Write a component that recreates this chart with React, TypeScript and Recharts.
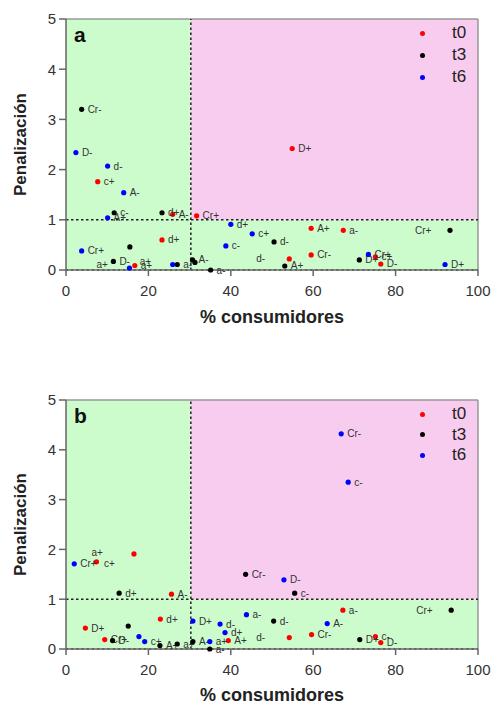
import {
  ScatterChart, Scatter, XAxis, YAxis, ReferenceArea, ReferenceLine, Legend,
} from 'recharts';

/* ── Palette ─────────────────────────────────────────────────────────────── */

const GREEN = '#ccfccc';
const PINK  = '#f8ccee';
const RED   = '#ff0000';
const BLACK = '#000000';
const BLUE  = '#0000ff';
const TEXT  = '#333333';
const FONT  = "'Liberation Sans', Arial, sans-serif";

/* ── Data ────────────────────────────────────────────────────────────────── */

const X_TICKS = [0, 20, 40, 60, 80, 100];
const Y_TICKS = [0, 1, 2, 3, 4, 5];
const SERIES_NAMES = ['t0', 't3', 't6'];
const CUT_X = 30.3;   // % consumidores threshold
const CUT_Y = 1;      // penalización threshold

// panel a
const aT0 = [
  { x: 54.9, y: 2.42, label: 'D+' },
  { x: 7.7,  y: 1.76, label: 'c+' },
  { x: 25.9, y: 1.11, label: 'A-' },
  { x: 31.7, y: 1.08, label: 'Cr+' },
  { x: 23.3, y: 0.6,  label: 'd+' },
  { x: 59.5, y: 0.83, label: 'A+' },
  { x: 67.3, y: 0.79, label: 'a-' },
  { x: 54.2, y: 0.22, label: 'd-' },
  { x: 59.5, y: 0.3,  label: 'Cr-' },
  { x: 75.1, y: 0.26, label: 'c+' },
  { x: 76.4, y: 0.12, label: 'D-' },
  { x: 16.7, y: 0.09, label: 'a+' },
];
const aT3 = [
  { x: 3.8,  y: 3.2,  label: 'Cr-' },
  { x: 11.7, y: 1.14, label: 'c-' },
  { x: 23.3, y: 1.14, label: 'd+' },
  { x: 93.2, y: 0.79, label: 'Cr+' },
  { x: 50.5, y: 0.56, label: 'd-' },
  { x: 15.5, y: 0.46, label: '' },
  { x: 53.1, y: 0.08, label: 'A+' },
  { x: 71.2, y: 0.2,  label: 'D+' },
  { x: 11.5, y: 0.17, label: 'D-' },
  { x: 27.0, y: 0.11, label: 'a-' },
  { x: 30.7, y: 0.2,  label: 'A-' },
  { x: 31.3, y: 0.15, label: '' },
  { x: 35.1, y: 0,    label: 'a-' },
];
const aT6 = [
  { x: 2.4,  y: 2.34, label: 'D-' },
  { x: 10.1, y: 2.07, label: 'd-' },
  { x: 14.0, y: 1.54, label: 'A-' },
  { x: 10.1, y: 1.04, label: 'A+' },
  { x: 40.0, y: 0.91, label: 'd+' },
  { x: 45.2, y: 0.72, label: 'c+' },
  { x: 3.8,  y: 0.38, label: 'Cr+' },
  { x: 38.8, y: 0.48, label: 'c-' },
  { x: 73.4, y: 0.31, label: 'Cr+' },
  { x: 92.0, y: 0.11, label: 'D+' },
  { x: 15.4, y: 0.04, label: 'a+' },
  { x: 25.9, y: 0.11, label: 'a+' },
];

// panel b
const bT0 = [
  { x: 7.4,  y: 1.75, label: 'a+' },
  { x: 16.5, y: 1.91, label: 'c+' },
  { x: 25.6, y: 1.1,  label: 'A-' },
  { x: 67.2, y: 0.78, label: 'a-' },
  { x: 22.9, y: 0.6,  label: 'd+' },
  { x: 4.7,  y: 0.42, label: 'D+' },
  { x: 9.4,  y: 0.19, label: 'Cr+' },
  { x: 39.4, y: 0.17, label: 'A+' },
  { x: 54.2, y: 0.23, label: 'd-' },
  { x: 59.6, y: 0.29, label: 'Cr-' },
  { x: 75.1, y: 0.25, label: 'c-' },
  { x: 76.4, y: 0.13, label: 'D-' },
];
const bT3 = [
  { x: 12.9, y: 1.12, label: 'd+' },
  { x: 43.6, y: 1.5,  label: 'Cr-' },
  { x: 55.5, y: 1.12, label: 'c-' },
  { x: 93.5, y: 0.78, label: 'Cr+' },
  { x: 50.4, y: 0.56, label: 'd-' },
  { x: 15.1, y: 0.46, label: '' },
  { x: 11.3, y: 0.17, label: 'D-' },
  { x: 22.8, y: 0.07, label: 'A+' },
  { x: 27.0, y: 0.1,  label: 'a+' },
  { x: 30.8, y: 0.15, label: 'A-' },
  { x: 34.9, y: 0,    label: 'a-' },
  { x: 71.3, y: 0.19, label: 'D+' },
];
const bT6 = [
  { x: 66.8, y: 4.32, label: 'Cr-' },
  { x: 68.5, y: 3.35, label: 'c-' },
  { x: 2.0,  y: 1.71, label: 'Cr+' },
  { x: 52.9, y: 1.39, label: 'D-' },
  { x: 43.8, y: 0.69, label: 'a-' },
  { x: 30.8, y: 0.56, label: 'D+' },
  { x: 37.4, y: 0.5,  label: 'd-' },
  { x: 63.4, y: 0.51, label: 'A-' },
  { x: 38.6, y: 0.33, label: 'd+' },
  { x: 17.7, y: 0.25, label: '' },
  { x: 19.1, y: 0.15, label: 'c+' },
  { x: 34.9, y: 0.15, label: 'a+' },
];

// a few labels sit left of / above their point in the original
const LABEL_NUDGE: Record<string, [number, number]> = {
  'a:t3:Cr+': [-35, 0],
  'a:t0:d-':  [-33, 0],
  'a:t6:a+':  [-33, -3],
  'b:t3:Cr+': [-35, 0],
  'b:t0:d-':  [-33, 0],
  'b:t0:a+':  [-5, -9],
  'b:t0:c+':  [-30, 10],
};

/* ── Point with its product label ────────────────────────────────────────── */

function makeShape(panel: string, series: string) {
  return (props: any) => {
    const { cx, cy, fill, payload } = props;
    if (cx == null || cy == null) return <g />;
    const [dx, dy] = LABEL_NUDGE[`${panel}:${series}:${payload.label}`] ?? [6, 0];
    return (
      <g>
        <circle cx={cx} cy={cy} r={2.6} fill={fill} />
        {payload.label && (
          <text x={cx + dx} y={cy + dy + 3.5} fontSize={10} fill={TEXT} fontFamily={FONT}>
            {payload.label}
          </text>
        )}
      </g>
    );
  };
}

/* ── Legend ──────────────────────────────────────────────────────────────── */

function SeriesLegend({ gap }: { gap: number }) {
  const colors = [RED, BLACK, BLUE];
  return (
    <div style={{ fontFamily: FONT }}>
      {SERIES_NAMES.map((name, i) => (
        <div key={name} style={{ display: 'flex', alignItems: 'center', height: gap }}>
          <span style={{ width: 5, height: 5, borderRadius: 3, background: colors[i], marginLeft: 2 }} />
          <span style={{ fontSize: 17, color: '#222', marginLeft: 27 }}>{name}</span>
        </div>
      ))}
    </div>
  );
}

/* ── Panel ───────────────────────────────────────────────────────────────── */

interface PanelProps {
  id: string;
  t0: { x: number; y: number; label: string }[];
  t3: { x: number; y: number; label: string }[];
  t6: { x: number; y: number; label: string }[];
  height: number;
  top: number;
  bottom: number;
  axisHeight: number;
  titleOffset: number;
  legendTop: number;
  legendGap: number;
}

function Panel(p: PanelProps) {
  return (
    <ScatterChart
      width={493}
      height={p.height}
      margin={{ top: p.top, right: 15, bottom: p.bottom, left: 0 }}
      style={{ fontFamily: FONT }}
    >
      <ReferenceArea
        x1={0} x2={CUT_X} y1={0} y2={5} fill={GREEN} fillOpacity={1} stroke="none"
        label={{ value: p.id, position: 'insideTopLeft', offset: 8, style: { fontSize: 21, fontWeight: 'bold', fill: '#111' } }}
      />
      <ReferenceArea x1={CUT_X} x2={100} y1={0} y2={CUT_Y} fill={GREEN} fillOpacity={1} stroke="none" />
      <ReferenceArea x1={CUT_X} x2={100} y1={CUT_Y} y2={5} fill={PINK} fillOpacity={1} stroke="none" />
      <ReferenceLine y={5} stroke="#999" strokeWidth={1.5} />
      <ReferenceLine x={100} stroke="#999" strokeWidth={1.5} />
      <ReferenceLine y={CUT_Y} stroke="#222" strokeWidth={1.5} strokeDasharray="2.5 2.5" />
      <ReferenceLine x={CUT_X} stroke="#222" strokeWidth={1.5} strokeDasharray="2.5 2.5" />
      <ReferenceLine y={0} stroke="#222" strokeWidth={1.5} strokeDasharray="2 3.2" />
      <XAxis
        type="number"
        dataKey="x"
        domain={[0, 100]}
        ticks={X_TICKS}
        height={p.axisHeight}
        tick={{ fill: TEXT, fontSize: 15 }}
        tickSize={6}
        tickMargin={9}
        stroke="#666"
        strokeWidth={1.5}
        label={{ value: '% consumidores', position: 'insideBottom', offset: p.titleOffset, style: { fontSize: 18, fontWeight: 'bold', fill: '#222' } }}
      />
      <YAxis
        type="number"
        dataKey="y"
        domain={[0, 5]}
        ticks={Y_TICKS}
        width={66}
        tick={{ fill: TEXT, fontSize: 15 }}
        tickSize={7}
        tickMargin={3}
        stroke="#666"
        strokeWidth={1.5}
        label={{
          content: ({ viewBox }: any) => {
            const cx = viewBox.x + 20;
            const cy = viewBox.y + viewBox.height / 2;
            return (
              <text x={cx} y={cy} transform={`rotate(-90 ${cx} ${cy})`} textAnchor="middle"
                dominantBaseline="central" fontSize={17} fontWeight="bold" fill="#222" fontFamily={FONT}>
                Penalización
              </text>
            );
          },
        }}
      />
      <Legend
        layout="horizontal"
        align="center"
        verticalAlign="middle"
        wrapperStyle={{ top: p.legendTop, left: 418, width: 70, bottom: 'auto' }}
        content={() => <SeriesLegend gap={p.legendGap} />}
      />
      <Scatter name="t0" data={p.t0} fill={RED}   shape={makeShape(p.id, 't0')} isAnimationActive={false} />
      <Scatter name="t3" data={p.t3} fill={BLACK} shape={makeShape(p.id, 't3')} isAnimationActive={false} />
      <Scatter name="t6" data={p.t6} fill={BLUE}  shape={makeShape(p.id, 't6')} isAnimationActive={false} />
    </ScatterChart>
  );
}

/* ── Page ─────────────────────────────────────────────────────────────────── */

export default function App() {
  // pinned to the page corner so the two panels fill the 493x704 window exactly
  return (
    <div style={{ position: 'absolute', top: 0, left: 0, width: 493, height: 704, overflow: 'hidden', background: '#fff' }}>
      <Panel id="a" t0={aT0} t3={aT3} t6={aT6}
        height={348} top={19} bottom={18} axisHeight={60} titleOffset={7}
        legendTop={22} legendGap={22} />
      <Panel id="b" t0={bT0} t3={bT3} t6={bT6}
        height={356} top={52} bottom={1} axisHeight={54} titleOffset={2}
        legendTop={56} legendGap={20.5} />
    </div>
  );
}
